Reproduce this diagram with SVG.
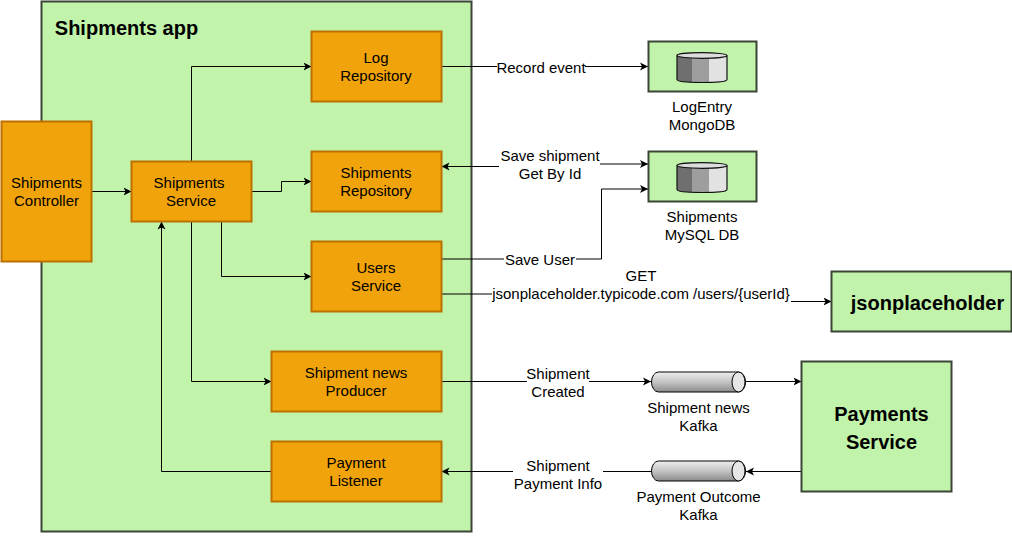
<svg xmlns="http://www.w3.org/2000/svg" width="1012" height="551" viewBox="0 0 1012 551">
<style>
text{font-family:"Liberation Sans",Arial,sans-serif;font-size:15px;fill:#000;text-anchor:middle}
.o{fill:#f0a30a;stroke:#bd7000;stroke-width:2}
.g{fill:#c1f4aa;stroke:#3a4536;stroke-width:2}
.c{fill:none;stroke:#000;stroke-width:1}
.b{font-weight:bold}
.lb{fill:#fff}
</style>
<defs>
<marker id="a" markerUnits="userSpaceOnUse" markerWidth="10" markerHeight="10" refX="8" refY="4" orient="auto-start-reverse" viewBox="0 0 10 8"><path d="M0 0L8 4L0 8L2 4Z" fill="#000"/></marker>
<linearGradient id="cyl" x1="0" y1="0" x2="0" y2="1"><stop offset="0" stop-color="#eee"/><stop offset="0.5" stop-color="#c4c4c4"/><stop offset="1" stop-color="#8a8a8a"/></linearGradient>
<g id="db">
<path d="M-25 -12V12C-25 14.500 -12 15 0 15S25 14.500 25 12V-12Z" fill="#9e9e9e"/>
<path d="M-25 -12V12C-25 13.500 -18 14.500 -10 14.800V-12Z" fill="#6f6f6f"/>
<path d="M7 -12V14.800C17 14.500 25 13.500 25 12V-12Z" fill="#e2e2e2"/>
<path d="M-25 -12V12C-25 14.500 -12 15 0 15S25 14.500 25 12V-12" fill="none" stroke="#111" stroke-width="1.200"/>
<ellipse cx="0" cy="-12" rx="25" ry="2.800" fill="#ddd" stroke="#111" stroke-width="1.200"/>
</g>
<g id="kafka">
<path d="M-40 -10H40A7 10 0 0 1 40 10H-40A7 10 0 0 1 -40 -10Z" fill="url(#cyl)" stroke="#000" stroke-width="1"/>
<ellipse cx="40" cy="0" rx="6.500" ry="10" fill="#e6e6e6" stroke="#000" stroke-width="1"/>
</g>
</defs>
<g id="shipments-app"><rect class="g" x="41.500" y="1.500" width="430" height="530"/><text class="b" x="126.500" y="35" style="font-size:20px">Shipments app</text></g>
<g id="connectors">
<path class="c" marker-end="url(#a)" d="M91.500 191.500H131.500"/>
<path class="c" marker-end="url(#a)" d="M191.500 161.500V66.500H311.500"/>
<path class="c" marker-end="url(#a)" d="M251.500 191.500H281.500V181.500H311.500"/>
<path class="c" marker-end="url(#a)" d="M221.500 221.500V276.500H311.500"/>
<path class="c" marker-end="url(#a)" d="M191.500 221.500V381.500H271.500"/>
<path class="c" marker-end="url(#a)" d="M271.500 471.500H161.500V221.500"/>
<path class="c" marker-end="url(#a)" d="M441.500 66.500H648"/>
<path class="c" marker-start="url(#a)" marker-end="url(#a)" d="M441.500 166.500H550V164H648"/>
<path class="c" marker-end="url(#a)" d="M441.500 259H601.500V189H648"/>
<path class="c" marker-end="url(#a)" d="M441.500 294H640V301.500H831.500"/>
<path class="c" marker-end="url(#a)" d="M441.500 381.500H651"/>
<path class="c" marker-end="url(#a)" d="M746 381.500H801.500"/>
<path class="c" marker-end="url(#a)" d="M801.500 471.500H746"/>
<path class="c" marker-end="url(#a)" d="M651 471.500H441.500"/>
<rect class="lb" x="497" y="59" width="88" height="16"/><text x="541" y="73">Record event</text>
<rect class="lb" x="499" y="148" width="101" height="36"/><text x="550" y="161">Save shipment</text><text x="550" y="179">Get By Id</text>
<rect class="lb" x="504" y="252" width="72" height="16"/><text x="540" y="265">Save User</text>
<rect class="lb" x="492" y="285" width="299" height="18"/><text x="641" y="281">GET</text><text x="641" y="299">jsonplaceholder.typicode.com /users/{userId}</text>
<rect class="lb" x="527" y="366" width="62" height="34"/><text x="558" y="379">Shipment</text><text x="558" y="397">Created</text>
<rect class="lb" x="513" y="458" width="90" height="34"/><text x="558" y="471">Shipment</text><text x="558" y="489">Payment Info</text>
</g>
<g id="shipments-controller"><rect class="o" x="1.500" y="121.500" width="90" height="140"/><text x="46.500" y="188">Shipments</text><text x="46.500" y="206">Controller</text></g>
<g id="shipments-service"><rect class="o" x="131.500" y="161.500" width="120" height="60"/><text x="189" y="188">Shipments</text><text x="191" y="206">Service</text></g>
<g id="log-repository"><rect class="o" x="311.500" y="31.500" width="130" height="70"/><text x="376" y="63">Log</text><text x="376" y="81">Repository</text></g>
<g id="shipments-repository"><rect class="o" x="311.500" y="151.500" width="130" height="60"/><text x="376" y="178">Shipments</text><text x="376" y="196">Repository</text></g>
<g id="users-service"><rect class="o" x="311.500" y="241.500" width="130" height="70"/><text x="376" y="273">Users</text><text x="376" y="291">Service</text></g>
<g id="shipment-news-producer"><rect class="o" x="271.500" y="351.500" width="170" height="60"/><text x="356" y="378">Shipment news</text><text x="356" y="396">Producer</text></g>
<g id="payment-listener"><rect class="o" x="271.500" y="441.500" width="170" height="60"/><text x="356" y="468">Payment</text><text x="356" y="486">Listener</text></g>
<g id="logentry-mongodb"><rect class="g" x="648.500" y="41.500" width="108" height="50"/><use href="#db" x="702" y="67.500"/><text x="702" y="112">LogEntry</text><text x="702" y="130">MongoDB</text></g>
<g id="shipments-mysql"><rect class="g" x="648.500" y="151.500" width="108" height="50"/><use href="#db" x="702" y="177.500"/><text x="702" y="222">Shipments</text><text x="702" y="240">MySQL DB</text></g>
<g id="jsonplaceholder"><rect class="g" x="831.500" y="271.500" width="180" height="60"/><text class="b" x="927.500" y="310" style="font-size:20px">jsonplaceholder</text></g>
<g id="payments-service"><rect class="g" x="801.500" y="361.500" width="150" height="130"/><text class="b" x="881.500" y="421" style="font-size:20px">Payments</text><text class="b" x="881.500" y="448.500" style="font-size:20px">Service</text></g>
<g id="shipment-news-kafka"><use href="#kafka" x="698.500" y="382"/><text x="698.500" y="413">Shipment news</text><text x="698.500" y="431">Kafka</text></g>
<g id="payment-outcome-kafka"><use href="#kafka" x="698.500" y="471"/><text x="698.500" y="502">Payment Outcome</text><text x="698.500" y="520">Kafka</text></g>
</svg>
